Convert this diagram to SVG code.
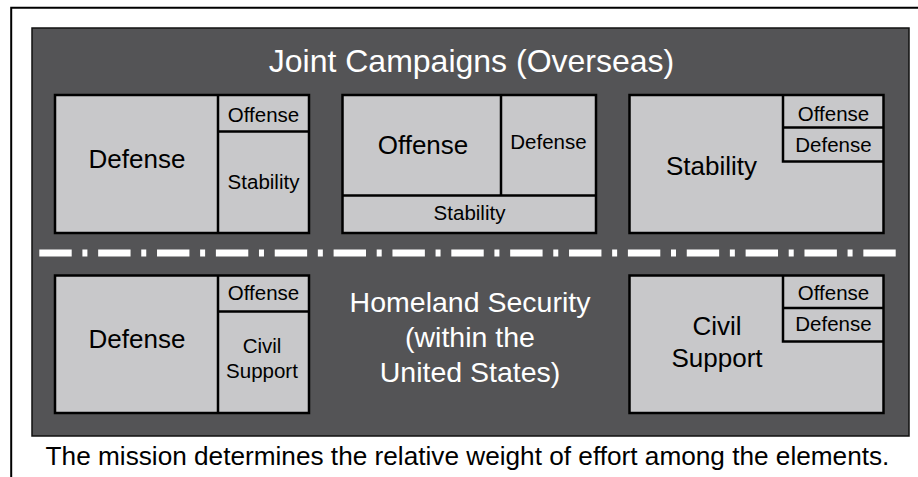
<svg xmlns="http://www.w3.org/2000/svg" width="918" height="477" viewBox="0 0 918 477">
<style>
.frame{stroke:#000;stroke-width:2;fill:none}
.panel{fill:#545456;stroke:#111;stroke-width:1.5}
.box{fill:#c8c8ca;stroke:#000;stroke-width:2.5}
.div{stroke:#000;stroke-width:2.5;fill:none}
text{font-family:"Liberation Sans",Arial,Helvetica,sans-serif;text-anchor:middle}
.big{font-size:26px;fill:#000}
.sm{font-size:20.5px;fill:#000}
.wt{fill:#fff}
.sep{stroke:#fff;stroke-width:7;stroke-dasharray:32.4 10.7 5 10.76;fill:none}
</style>
<rect width="918" height="477" fill="#fff"/>
<g id="frame">
<path class="frame" d="M11.2 477 V7.7 H918"/>
</g>
<g id="panel">
<rect class="panel" x="32" y="28" width="877" height="408"/>
<text class="wt" x="471.5" y="72" font-size="32">Joint Campaigns (Overseas)</text>
</g>
<g id="connectors">
<line class="sep" x1="39.3" y1="253" x2="895.7" y2="253"/>
</g>
<g id="box-overseas-defense">
<rect class="box" x="55" y="95" width="254" height="138"/>
<path class="div" d="M218 95 V233 M218 131.5 H309"/>
<text class="big" x="137" y="168">Defense</text>
<text class="sm" x="263.5" y="121.5">Offense</text>
<text class="sm" x="263.5" y="188.5">Stability</text>
</g>
<g id="box-overseas-offense">
<rect class="box" x="342.5" y="95" width="253.5" height="138"/>
<path class="div" d="M501 95 V195.5 M342.5 195.5 H596"/>
<text class="big" x="423" y="154">Offense</text>
<text class="sm" x="548.5" y="149">Defense</text>
<text class="sm" x="469.5" y="220">Stability</text>
</g>
<g id="box-overseas-stability">
<rect class="box" x="629.5" y="95" width="254" height="138"/>
<path class="div" d="M783 95 V161.5 H883.5 M783 127.5 H883.5"/>
<text class="big" x="711.5" y="175">Stability</text>
<text class="sm" x="833.5" y="120.5">Offense</text>
<text class="sm" x="833.5" y="151.5">Defense</text>
</g>
<g id="homeland-label">
<text class="wt" x="470" y="311.5" font-size="28.5">Homeland Security</text>
<text class="wt" x="470" y="347" font-size="28.5">(within the</text>
<text class="wt" x="470" y="381.5" font-size="28.5">United States)</text>
</g>
<g id="box-homeland-defense">
<rect class="box" x="55" y="275.5" width="254" height="137.5"/>
<path class="div" d="M218 275.5 V413 M218 311.5 H309"/>
<text class="big" x="137" y="348">Defense</text>
<text class="sm" x="263.5" y="300">Offense</text>
<text class="sm" x="262" y="353">Civil</text>
<text class="sm" x="262" y="378">Support</text>
</g>
<g id="box-homeland-civil">
<rect class="box" x="629.5" y="275.5" width="254" height="137.5"/>
<path class="div" d="M783 275.5 V341.5 H883.5 M783 308 H883.5"/>
<text class="big" x="717" y="335">Civil</text>
<text class="big" x="717" y="366.5">Support</text>
<text class="sm" x="833.5" y="300">Offense</text>
<text class="sm" x="833.5" y="330.5">Defense</text>
</g>
<g id="caption">
<text x="467.5" y="465" font-size="26.2" fill="#000">The mission determines the relative weight of effort among the elements.</text>
</g>
</svg>
